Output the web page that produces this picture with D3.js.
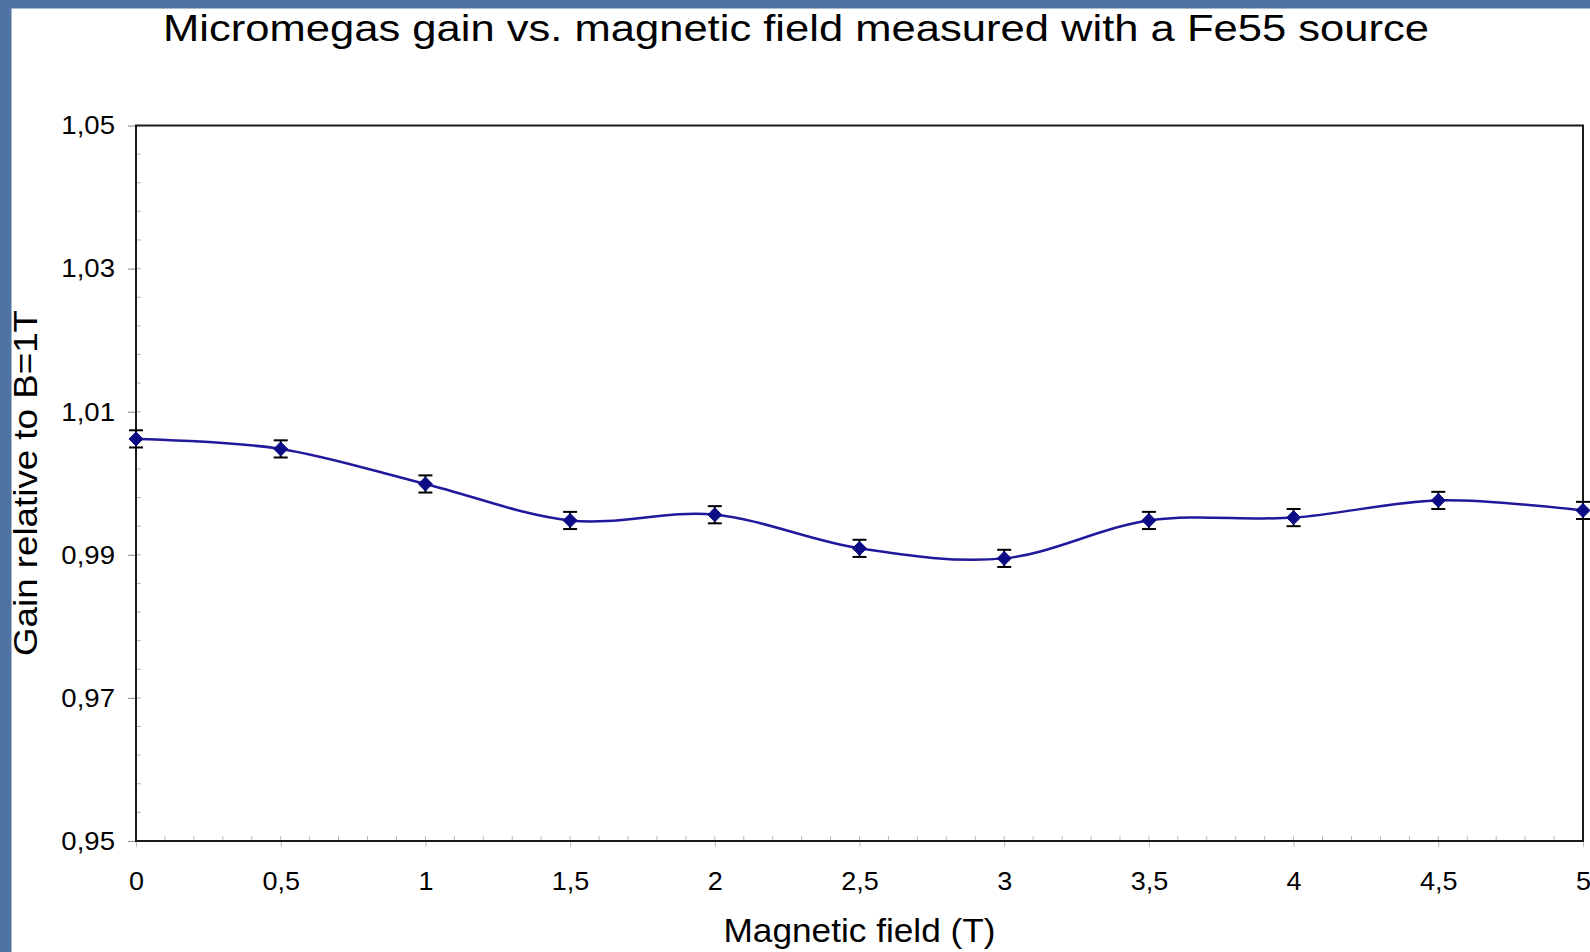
<!DOCTYPE html>
<html>
<head>
<meta charset="utf-8">
<script src="https://cdn.jsdelivr.net/npm/d3@7"></script>
<style>
  html, body { margin: 0; padding: 0; background: #4f74a3; }
  svg { display: block; }
  text { font-family: "Liberation Sans", Arial, Helvetica, sans-serif; fill: #000; }
</style>
</head>
<body>
<svg id="chart" width="1590" height="952"></svg>
<script>
// Magnetic field values (T)
const fieldT = [0, 0.5, 1, 1.5, 2, 2.5, 3, 3.5, 4, 4.5, 5];
// Gain relative to the gain at B = 1 T
const relGain = [1.0062, 1.0048, 0.9999, 0.9948, 0.9956, 0.9909, 0.9895, 0.9948, 0.9952, 0.9976, 0.9962];
// Uncertainty on each point
const relGainErr = [0.0012, 0.0012, 0.0012, 0.0012, 0.0012, 0.0012, 0.0012, 0.0012, 0.0012, 0.0012, 0.0012];

// Axis ticks
const xMajorTicks = [0, 0.5, 1, 1.5, 2, 2.5, 3, 3.5, 4, 4.5, 5];
const yMajorTicks = [0.95, 0.97, 0.99, 1.01, 1.03, 1.05];
const xDomain = [0, 5];
const yDomain = [0.95, 1.05];
const xMinorStep = 0.1;
const yMinorStep = 0.004;

const titleText = "Micromegas gain vs. magnetic field measured with a Fe55 source";
const xTitle = "Magnetic field (T)";
const yTitle = "Gain relative to B=1T";

// Decimal comma formatting
const locale = d3.formatLocale({ decimal: ",", thousands: ".", grouping: [3], currency: ["", " €"] });
const fmtX = locale.format(".1~f");
const fmtY = locale.format(".2f");

const svg = d3.select("#chart");
const W = 1590, H = 952;

// Slide background with white chart panel
svg.append("rect").attr("width", W).attr("height", H).attr("fill", "#4f74a3");
svg.append("rect").attr("x", 11.5).attr("y", 8.5).attr("width", W - 11.5).attr("height", H - 8.5).attr("fill", "#ffffff");

const plot = { left: 136, right: 1583, top: 125.5, bottom: 841 };
const x = d3.scaleLinear().domain(xDomain).range([plot.left, plot.right]);
const y = d3.scaleLinear().domain(yDomain).range([plot.bottom, plot.top]);

// Stretch text horizontally to the wide lettering of the chart
function widen(sel, factor) {
  sel.each(function () {
    const len = this.getComputedTextLength();
    d3.select(this).attr("textLength", len * factor).attr("lengthAdjust", "spacingAndGlyphs");
  });
}

// Title
svg.append("text")
  .attr("x", (163 + 1429) / 2).attr("y", 41)
  .attr("text-anchor", "middle")
  .attr("font-size", 37)
  .text(titleText)
  .attr("textLength", 1266).attr("lengthAdjust", "spacingAndGlyphs");

// Minor ticks (inside)
const xMinor = d3.range(Math.round((xDomain[1] - xDomain[0]) / xMinorStep) + 1).map(i => xDomain[0] + i * xMinorStep);
const yMinor = d3.range(Math.round((yDomain[1] - yDomain[0]) / yMinorStep) + 1).map(i => yDomain[0] + i * yMinorStep);

svg.append("g").selectAll("line").data(xMinor).join("line")
  .attr("x1", d => x(d)).attr("x2", d => x(d))
  .attr("y1", plot.bottom).attr("y2", plot.bottom - 5)
  .attr("stroke", "#b8b8b8").attr("stroke-width", 1);

svg.append("g").selectAll("line").data(yMinor).join("line")
  .attr("x1", plot.left).attr("x2", plot.left + 5)
  .attr("y1", d => y(d)).attr("y2", d => y(d))
  .attr("stroke", "#b8b8b8").attr("stroke-width", 1);

// X axis (major ticks below)
const xAxis = d3.axisBottom(x).tickValues(xMajorTicks).tickFormat(fmtX).tickSize(6).tickPadding(22);
const gx = svg.append("g").attr("transform", `translate(0,${plot.bottom})`).call(xAxis);
gx.select(".domain").remove();
gx.selectAll(".tick line").attr("stroke", "#bdbdbd").attr("stroke-width", 1);
gx.selectAll(".tick text").attr("font-size", 25).attr("font-family", null).attr("dy", "0.71em").attr("y", 31).call(widen, 1.08);

// Y axis (major ticks outside)
const yAxis = d3.axisLeft(y).tickValues(yMajorTicks).tickFormat(fmtY).tickSize(8).tickPadding(13);
const gy = svg.append("g").attr("transform", `translate(${plot.left},0)`).call(yAxis);
gy.select(".domain").remove();
gy.selectAll(".tick line").attr("stroke", "#9a9a9a").attr("stroke-width", 1.2);
gy.selectAll(".tick text").attr("font-size", 26).attr("font-family", null).attr("x", -21).call(widen, 1.06);

// Plot frame
svg.append("rect")
  .attr("x", plot.left).attr("y", plot.top)
  .attr("width", plot.right - plot.left).attr("height", plot.bottom - plot.top)
  .attr("fill", "none").attr("stroke", "#1a1a1a").attr("stroke-width", 2);

// Axis titles
svg.append("text")
  .attr("x", (plot.left + plot.right) / 2).attr("y", 942)
  .attr("text-anchor", "middle").attr("font-size", 33)
  .text(xTitle)
  .attr("textLength", 272).attr("lengthAdjust", "spacingAndGlyphs");

svg.append("text")
  .attr("transform", `translate(37,${(310 + 656) / 2}) rotate(-90)`)
  .attr("text-anchor", "middle").attr("font-size", 33)
  .text(yTitle)
  .attr("textLength", 346).attr("lengthAdjust", "spacingAndGlyphs");

// Data rows
const rows = fieldT.map((f, i) => ({ f, g: relGain[i], e: relGainErr[i] }));

// Smoothed line
const line = d3.line().x(d => x(d.f)).y(d => y(d.g)).curve(d3.curveCatmullRom.alpha(0));
svg.append("path").datum(rows)
  .attr("d", line).attr("fill", "none")
  .attr("stroke", "#22189c").attr("stroke-width", 2.5);

// Error bars
const eb = svg.append("g").attr("stroke", "#000").attr("stroke-width", 2);
const capW = 7;
eb.selectAll("line.v").data(rows).join("line").attr("class", "v")
  .attr("x1", d => x(d.f)).attr("x2", d => x(d.f))
  .attr("y1", d => y(d.g - d.e)).attr("y2", d => y(d.g + d.e));
eb.selectAll("line.t").data(rows).join("line").attr("class", "t")
  .attr("x1", d => x(d.f) - capW).attr("x2", d => x(d.f) + capW)
  .attr("y1", d => y(d.g + d.e)).attr("y2", d => y(d.g + d.e));
eb.selectAll("line.b").data(rows).join("line").attr("class", "b")
  .attr("x1", d => x(d.f) - capW).attr("x2", d => x(d.f) + capW)
  .attr("y1", d => y(d.g - d.e)).attr("y2", d => y(d.g - d.e));

// Diamond markers
const diamond = d3.symbol().type(d3.symbolDiamond2).size(125);
svg.append("g").selectAll("path").data(rows).join("path")
  .attr("transform", d => `translate(${x(d.f)},${y(d.g)})`)
  .attr("d", diamond)
  .attr("fill", "#0c0c84").attr("stroke", "#0c0c84").attr("stroke-width", 1);
</script>
</body>
</html>
